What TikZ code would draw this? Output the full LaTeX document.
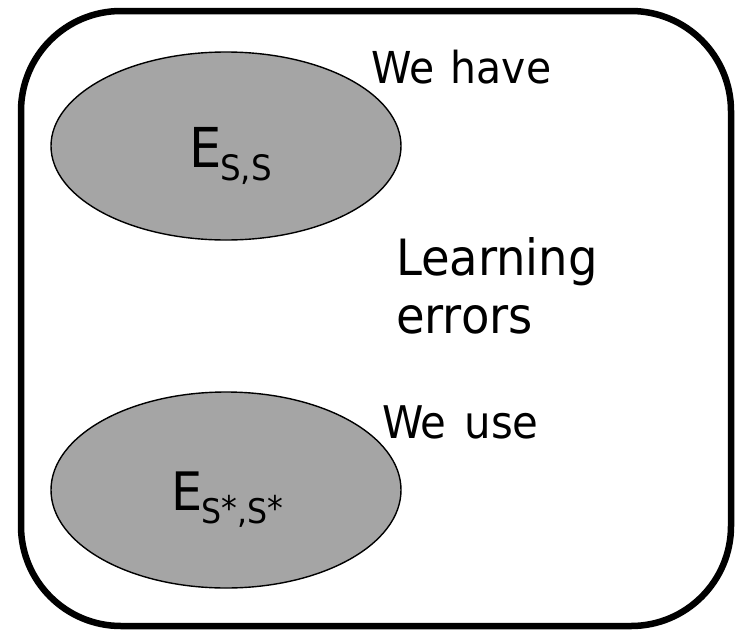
\documentclass[tikz,border=0pt]{standalone}
\usepackage{fontspec}
\setmainfont{DejaVu Sans}[FakeStretch=0.93]
\begin{document}
\begin{tikzpicture}[x=1pt,y=-1pt,
  frame/.style={draw=black,line width=6.5pt,rounded corners=100pt},
  blob/.style={draw=black,line width=1.4pt,fill=blobgray},
  lbl/.style={anchor=base west,inner sep=0pt,outer sep=0pt}]
\definecolor{blobgray}{HTML}{A5A5A5}
\useasboundingbox (0,0) rectangle (738,632);
% outer rounded frame
\draw[frame] (21,11) rectangle (731,626);
% the two error sets
\draw[blob] (226,146) ellipse [x radius=175, y radius=94];
\draw[blob] (226,490) ellipse [x radius=175, y radius=98];
\node[lbl] (ess) at (189,167) {\fontsize{55}{60}\selectfont E\kern-1pt\raisebox{-13pt}{\fontsize{35}{40}\selectfont S,S}};
\node[lbl] (estar) at (171,510) {\fontsize{53}{60}\selectfont E\kern-1pt\raisebox{-13pt}{\fontsize{34}{40}\selectfont S\raisebox{3pt}{*},S\raisebox{3pt}{*}}};
% captions
\node[lbl] (have) at (371,83) {\fontsize{44}{50}\selectfont We\hspace{0.38em}have};
\node[lbl] (learn) at (396,275) {\fontsize{50}{58}\selectfont Learning};
\node[lbl] (err) at (396,333) {\fontsize{50}{58}\selectfont errors};
\node[lbl] (use) at (382,438) {\fontsize{45}{50}\selectfont We\hspace{0.4em}use};
\end{tikzpicture}
\end{document}
